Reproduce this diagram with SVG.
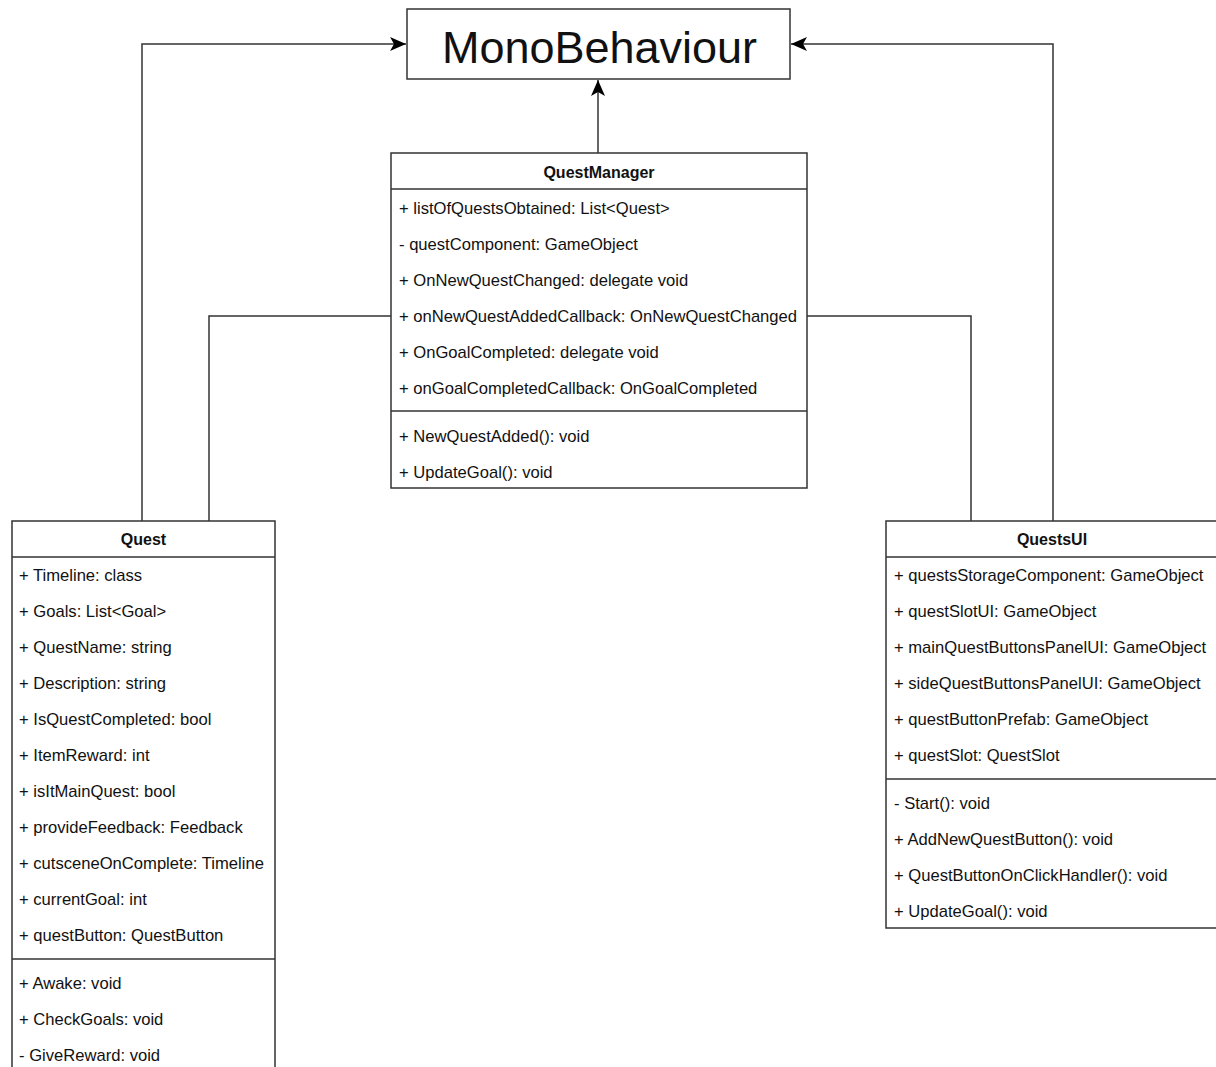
<svg xmlns="http://www.w3.org/2000/svg" width="1216" height="1067" viewBox="0 0 1216 1067">
  <style>
    .box { fill: #ffffff; stroke: #333333; stroke-width: 1.5; }
    .sep { stroke: #333333; stroke-width: 1.5; }
    .edge { fill: none; stroke: #333333; stroke-width: 1.5; }
    .title { font-family: "Liberation Sans", Arial, sans-serif; font-size: 16px; font-weight: bold; fill: #111111; text-anchor: middle; }
    .row { font-family: "Liberation Sans", Arial, sans-serif; font-size: 16.6px; fill: #111111; }
    .big { font-family: "Liberation Sans", Arial, sans-serif; font-size: 45px; fill: #111111; text-anchor: middle; }
  </style>
  <defs>
    <marker id="arrow" markerUnits="userSpaceOnUse" markerWidth="18" markerHeight="16" refX="16" refY="7" orient="auto">
      <path d="M16,7 L0,0 L4,7 L0,14 Z" fill="#000000"/>
    </marker>
  </defs>
  <rect width="1216" height="1067" fill="#ffffff"/>

  <!-- connectors -->
  <g id="connectors">
    <polyline class="edge" points="142,521 142,44 406,44" marker-end="url(#arrow)"/>
    <polyline class="edge" points="1053,521 1053,44 791,44" marker-end="url(#arrow)"/>
    <line class="edge" x1="598" y1="153" x2="598" y2="80" marker-end="url(#arrow)"/>
    <polyline class="edge" points="209,521 209,316 391,316"/>
    <polyline class="edge" points="971,521 971,316 807,316"/>
  </g>

  <!-- MonoBehaviour -->
  <g id="monobehaviour">
    <rect class="box" x="407" y="9" width="383" height="70"/>
    <text class="big" x="599.5" y="63">MonoBehaviour</text>
  </g>

  <!-- QuestManager -->
  <g id="questmanager">
    <rect class="box" x="391" y="153" width="416" height="335"/>
    <line class="sep" x1="391" y1="189" x2="807" y2="189"/>
    <line class="sep" x1="391" y1="411" x2="807" y2="411"/>
    <text class="title" x="599" y="178">QuestManager</text>
    <text class="row" x="399" y="214">+ listOfQuestsObtained: List&lt;Quest&gt;</text>
    <text class="row" x="399" y="250">- questComponent: GameObject</text>
    <text class="row" x="399" y="286">+ OnNewQuestChanged: delegate void</text>
    <text class="row" x="399" y="322">+ onNewQuestAddedCallback: OnNewQuestChanged</text>
    <text class="row" x="399" y="358">+ OnGoalCompleted: delegate void</text>
    <text class="row" x="399" y="394">+ onGoalCompletedCallback: OnGoalCompleted</text>
    <text class="row" x="399" y="442">+ NewQuestAdded(): void</text>
    <text class="row" x="399" y="478">+ UpdateGoal(): void</text>
  </g>

  <!-- Quest -->
  <g id="quest">
    <rect class="box" x="12" y="521" width="263" height="560"/>
    <line class="sep" x1="12" y1="557" x2="275" y2="557"/>
    <line class="sep" x1="12" y1="959" x2="275" y2="959"/>
    <text class="title" x="143.5" y="545">Quest</text>
    <text class="row" x="19" y="581">+ Timeline: class</text>
    <text class="row" x="19" y="617">+ Goals: List&lt;Goal&gt;</text>
    <text class="row" x="19" y="653">+ QuestName: string</text>
    <text class="row" x="19" y="689">+ Description: string</text>
    <text class="row" x="19" y="725">+ IsQuestCompleted: bool</text>
    <text class="row" x="19" y="761">+ ItemReward: int</text>
    <text class="row" x="19" y="797">+ isItMainQuest: bool</text>
    <text class="row" x="19" y="833">+ provideFeedback: Feedback</text>
    <text class="row" x="19" y="869">+ cutsceneOnComplete: Timeline</text>
    <text class="row" x="19" y="905">+ currentGoal: int</text>
    <text class="row" x="19" y="941">+ questButton: QuestButton</text>
    <text class="row" x="19" y="989">+ Awake: void</text>
    <text class="row" x="19" y="1025">+ CheckGoals: void</text>
    <text class="row" x="19" y="1061">- GiveReward: void</text>
  </g>

  <!-- QuestsUI -->
  <g id="questsui">
    <rect class="box" x="886" y="521" width="332" height="407"/>
    <line class="sep" x1="886" y1="557" x2="1218" y2="557"/>
    <line class="sep" x1="886" y1="779" x2="1218" y2="779"/>
    <text class="title" x="1052" y="545">QuestsUI</text>
    <text class="row" x="894" y="581">+ questsStorageComponent: GameObject</text>
    <text class="row" x="894" y="617">+ questSlotUI: GameObject</text>
    <text class="row" x="894" y="653">+ mainQuestButtonsPanelUI: GameObject</text>
    <text class="row" x="894" y="689">+ sideQuestButtonsPanelUI: GameObject</text>
    <text class="row" x="894" y="725">+ questButtonPrefab: GameObject</text>
    <text class="row" x="894" y="761">+ questSlot: QuestSlot</text>
    <text class="row" x="894" y="809">- Start(): void</text>
    <text class="row" x="894" y="845">+ AddNewQuestButton(): void</text>
    <text class="row" x="894" y="881">+ QuestButtonOnClickHandler(): void</text>
    <text class="row" x="894" y="917">+ UpdateGoal(): void</text>
  </g>
</svg>
